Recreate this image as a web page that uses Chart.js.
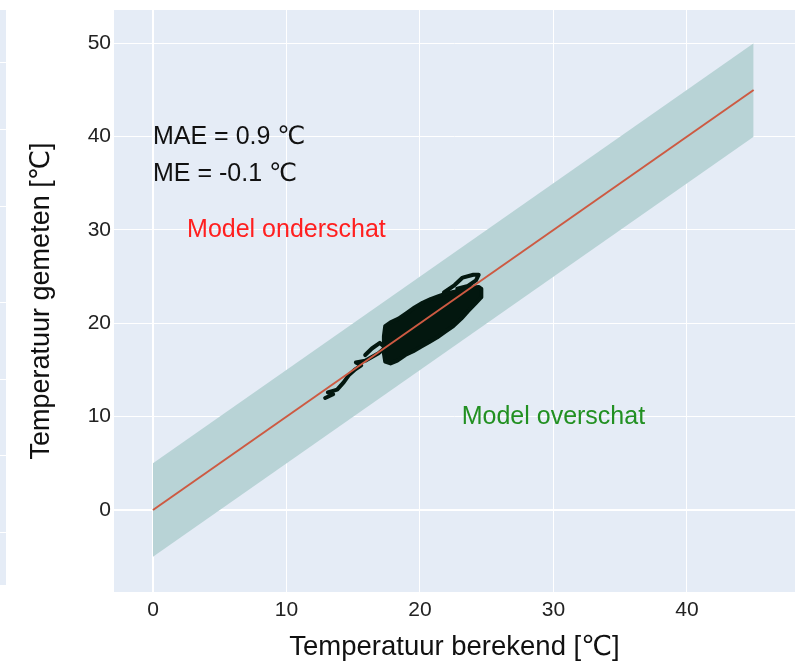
<!DOCTYPE html>
<html>
<head>
<meta charset="utf-8">
<script src="https://cdn.jsdelivr.net/npm/chart.js@4.4.1/dist/chart.umd.min.js"></script>
<style>
  html, body { margin: 0; padding: 0; background: #fff; }
  #wrap { position: relative; width: 800px; height: 666px; }
  #strip {
    position: absolute; left: 0; top: 10px; width: 6px; height: 575px;
    background: #E5ECF6;
  }
  .sl { position: absolute; left: 0; width: 6px; height: 1px; background: #fff; }
  canvas { position: absolute; left: 0; top: 0; }
</style>
</head>
<body>
<div id="wrap">
  <div id="strip">
    <div class="sl" style="top:52px"></div>
    <div class="sl" style="top:119px"></div>
    <div class="sl" style="top:196px"></div>
    <div class="sl" style="top:292px"></div>
    <div class="sl" style="top:369px"></div>
    <div class="sl" style="top:445px"></div>
    <div class="sl" style="top:522px"></div>
  </div>
  <canvas id="chart" width="800" height="666"></canvas>
</div>
<script>
// Tick labels
const xTicks = [0, 10, 20, 30, 40];
const yTicks = [0, 10, 20, 30, 40, 50];

// Ideale lijn en +/- 5 graden band
const lineX = [0, 45];
const lineY = [0, 45];
const bandUpper = [5, 50];
const bandLower = [-5, 40];

// Meetdata: berekend (x) tegen gemeten (y) - hoofdwolk
const bodyBerekend = [
    17.3, 17.4, 17.8, 18.4, 19.0, 19.6, 20.2, 20.8, 21.4, 22.0, 22.6, 23.2, 23.8, 24.4, 24.6,
    24.6, 24.2, 23.6, 23.1, 22.5, 21.9, 21.3, 20.7, 20.1, 19.5, 18.9, 18.3, 17.8, 17.4, 17.3, 17.3
];
const bodyGemeten = [
    18.6, 19.7, 20.1, 20.5, 21.1, 21.7, 22.2, 22.6, 22.9, 23.2, 23.4, 23.6, 23.8, 23.9, 23.7,
    22.8, 22.2, 21.3, 20.5, 19.7, 19.1, 18.5, 18.0, 17.5, 17.0, 16.6, 16.0, 15.7, 15.9, 16.8, 18.6
];
// losse sporen (staart links onder en lus rechts boven)
const tailBerekend = [
    12.9, 13.5, 13.1, 13.8, 14.3, 14.7, 15.1, 15.6, 15.2, 15.9, 16.4, 16.9, 17.4, 17.0, 16.4, 15.9
];
const tailGemeten = [
    12.0, 12.4, 12.6, 12.9, 13.7, 14.5, 15.0, 15.5, 15.8, 16.0, 16.4, 16.8, 17.4, 17.9, 17.3, 16.6
];
const loopBerekend = [21.8, 22.6, 23.2, 24.0, 24.4, 24.2, 23.6, 22.8];
const loopGemeten = [23.3, 24.1, 24.9, 25.2, 25.2, 24.6, 24.0, 23.7];

// Tekst in de grafiek
const annoText = ['MAE = 0.9 \u2103', 'ME = -0.1 \u2103', 'Model onderschat', 'Model overschat'];
const annoX = [0, 0, 10, 30];
const annoY = [40, 36, 30, 10];

const fontFam = '"Liberation Sans", Arial, "DejaVu Sans", sans-serif';
const dotColor = '#03170f';

const bgPlugin = {
    id: 'plotBg',
    beforeDraw(chart) {
        const { ctx, chartArea: a } = chart;
        ctx.save();
        ctx.fillStyle = '#E5ECF6';
        ctx.fillRect(a.left, a.top, a.right - a.left, a.bottom - a.top);
        ctx.restore();
    }
};

const annoPlugin = {
    id: 'annoText',
    afterDatasetsDraw(chart) {
        const { ctx, scales } = chart;
        const align = ['left', 'left', 'center', 'center'];
        const colors = ['#111', '#111', '#ff2020', '#229022'];
        ctx.save();
        ctx.font = '25px ' + fontFam;
        ctx.textBaseline = 'middle';
        annoText.forEach((t, i) => {
            ctx.textAlign = align[i];
            ctx.fillStyle = colors[i];
            ctx.fillText(t, scales.x.getPixelForValue(annoX[i]), scales.y.getPixelForValue(annoY[i]));
        });
        ctx.restore();
    }
};

const toPts = (xs, ys) => xs.map((v, i) => ({ x: v, y: ys[i] }));

new Chart(document.getElementById('chart').getContext('2d'), {
    type: 'scatter',
    data: {
        datasets: [
            {
                data: toPts(lineX, bandUpper),
                showLine: true, borderWidth: 0, pointRadius: 0,
                backgroundColor: 'rgba(184, 211, 214, 1)',
                fill: '+1', order: 3
            },
            {
                data: toPts(lineX, bandLower),
                showLine: true, borderWidth: 0, pointRadius: 0, fill: false, order: 3
            },
            {
                data: toPts(bodyBerekend, bodyGemeten),
                showLine: true, borderColor: dotColor, backgroundColor: dotColor, borderWidth: 4,
                pointRadius: 0, fill: 'shape', tension: 0, order: 2,
                borderJoinStyle: 'round', borderCapStyle: 'round'
            },
            {
                data: toPts(tailBerekend, tailGemeten),
                showLine: true, borderColor: dotColor, borderWidth: 4,
                pointRadius: 0, fill: false, tension: 0, order: 2,
                borderJoinStyle: 'round', borderCapStyle: 'round'
            },
            {
                data: toPts(loopBerekend, loopGemeten),
                showLine: true, borderColor: dotColor, borderWidth: 4,
                pointRadius: 0, fill: false, tension: 0, order: 2,
                borderJoinStyle: 'round', borderCapStyle: 'round'
            },
            {
                data: toPts(lineX, lineY),
                showLine: true, borderColor: '#cd5a42', borderWidth: 2,
                pointRadius: 0, fill: false, order: 1
            }
        ]
    },
    options: {
        responsive: false,
        animation: false,
        layout: { padding: { top: 10, right: 5, left: 0, bottom: 0 } },
        plugins: { legend: { display: false }, tooltip: { enabled: false } },
        scales: {
            x: {
                type: 'linear', min: -2.92, max: 48.1,
                afterBuildTicks: (s) => { s.ticks = xTicks.map(v => ({ value: v })); },
                afterFit: (s) => { s.height = 74; s.paddingLeft = 0; s.paddingRight = 0; },
                grid: {
                    color: '#fff',
                    lineWidth: (c) => (c.tick && c.tick.value === 0 ? 2 : 1),
                    drawTicks: false
                },
                border: { display: false },
                ticks: { color: '#222', padding: 6, font: { family: fontFam, size: 21 }, maxRotation: 0 },
                title: {
                    display: true, text: 'Temperatuur berekend [\u2103]', color: '#111',
                    font: { family: fontFam, size: 27.5 }, padding: { top: 0, bottom: 2 }
                }
            },
            y: {
                type: 'linear', min: -8.79, max: 53.57,
                afterBuildTicks: (s) => { s.ticks = yTicks.map(v => ({ value: v })); },
                afterFit: (s) => { s.width = 114; s.paddingTop = 0; s.paddingBottom = 0; },
                grid: {
                    color: '#fff',
                    lineWidth: (c) => (c.tick && c.tick.value === 0 ? 2 : 1),
                    drawTicks: false
                },
                border: { display: false },
                ticks: { color: '#222', padding: 3, font: { family: fontFam, size: 21 } },
                title: {
                    display: true, text: 'Temperatuur gemeten [\u2103]', color: '#111',
                    font: { family: fontFam, size: 27 }, padding: { top: 25, bottom: 0 }
                }
            }
        }
    },
    plugins: [bgPlugin, annoPlugin]
});
</script>
</body>
</html>
